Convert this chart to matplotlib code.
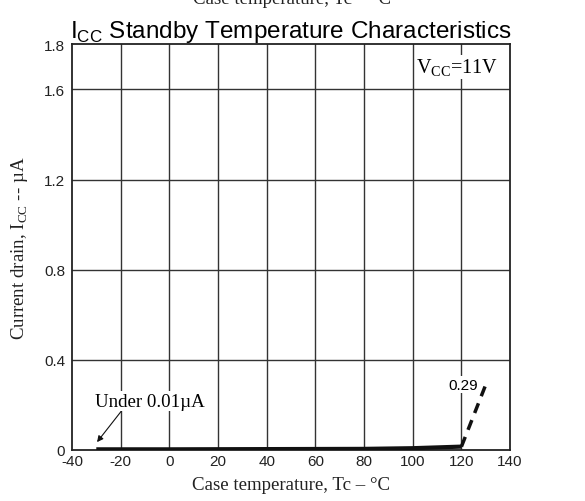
import matplotlib
matplotlib.use("Agg")
import matplotlib.pyplot as plt

# ICC standby current vs case temperature
temp_solid = [-30, 0, 40, 80, 100, 120]
icc_solid = [0.003, 0.003, 0.004, 0.005, 0.008, 0.015]
temp_dash = [120, 130]
icc_dash = [0.015, 0.29]

x_ticks = [-40, -20, 0, 20, 40, 60, 80, 100, 120, 140]
y_ticks = [0, 0.4, 0.8, 1.2, 1.6, 1.8]
y_labels = ["0", "0.4", "0.8", "1.2", "1.6", "1.8"]

sans = "Liberation Sans"
serif = "Liberation Serif"
plt.rcParams["axes.unicode_minus"] = False
plt.rcParams["mathtext.fontset"] = "custom"
plt.rcParams["mathtext.rm"] = serif

fig = plt.figure(figsize=(5.85, 5.02), dpi=100)
ax = fig.add_axes([0.123, 0.1016, 0.749, 0.808])

ax.set_xlim(-40, 140)
ax.set_ylim(0, 1.8)
ax.set_xticks(x_ticks)
ax.set_yticks(y_ticks)
ax.set_yticklabels(y_labels)
ax.tick_params(axis="x", length=0, labelsize=11, pad=3)
ax.tick_params(axis="y", length=0, labelsize=11, pad=5)
for lab in ax.get_xticklabels() + ax.get_yticklabels():
    lab.set_fontfamily(sans)
    lab.set_color("#222222")

for x in x_ticks[1:-1]:
    ax.axvline(x, color="#333333", lw=1.0, zorder=1)
for y in [0.4, 0.8, 1.2, 1.6]:
    ax.axhline(y, color="#333333", lw=1.0, zorder=1)
for sp in ax.spines.values():
    sp.set_linewidth(1.3)
    sp.set_color("#222222")

ax.plot(temp_solid, icc_solid, color="#111111", lw=3, solid_capstyle="butt", zorder=3)
ax.plot(temp_dash, icc_dash, color="#111111", lw=2.5, ls=(0, (3, 2.2)), zorder=3)

ax.text(120.6, 0.29, "0.29", fontfamily=sans, fontsize=11, ha="center", va="center",
        bbox=dict(facecolor="white", edgecolor="none", pad=1), zorder=4)
ax.text(101.5, 1.70, r"V$_{\mathregular{CC}}$=11V", fontfamily=serif, fontsize=14.5,
        ha="left", va="center",
        bbox=dict(facecolor="white", edgecolor="none", pad=1), zorder=4)
ax.annotate("Under 0.01\u00b5A", xy=(-29.7, 0.035), xytext=(-30.5, 0.217),
            fontfamily=serif, fontsize=13.6, ha="left", va="center",
            bbox=dict(facecolor="white", edgecolor="none", pad=1),
            arrowprops=dict(arrowstyle="-|>", color="#111111", lw=0.8,
                            shrinkA=0, shrinkB=0, mutation_scale=9,
                            relpos=(0.25, 0)),
            zorder=4)

ax.set_xlabel("Case temperature, Tc \u2013 \u00b0C", fontfamily=serif, fontsize=13.6,
              color="#222222", labelpad=6)
ax.set_ylabel("Current drain, I$_{\\mathregular{CC}}$ -- \u00b5A", fontfamily=serif,
              fontsize=13.6, color="#222222", labelpad=10)

ax.text(0.5, 1.0, r"I$_{\mathregular{CC}}$ Standby Temperature Characteristics",
        transform=ax.transAxes, fontfamily=sans, fontsize=17.5, ha="center", va="bottom")
# clipped caption at the very top of the image
fig.text(0.5, 1.0, "Case temperature, Tc \u2013 \u00b0C", fontfamily=serif, fontsize=13.6,
         ha="center", va="center", color="#222222")

fig.savefig("out.png", dpi=100)
